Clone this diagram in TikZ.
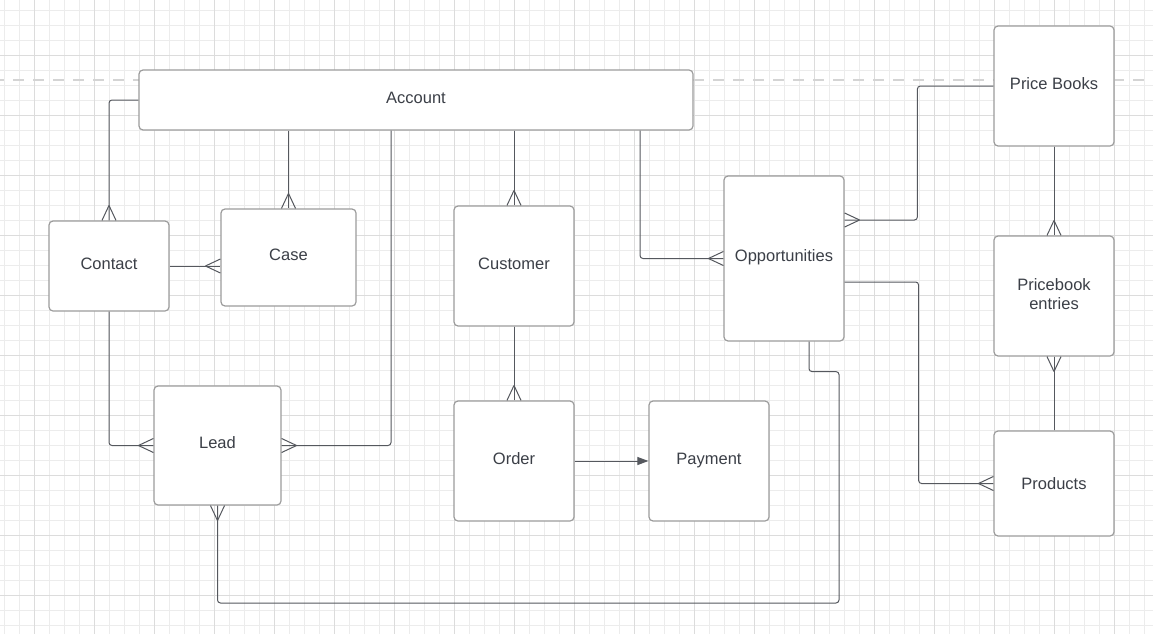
\documentclass[tikz,border=0pt]{standalone}
\usepackage{fontspec}
\setmainfont{Liberation Sans}
\usetikzlibrary{arrows.meta,decorations.markings}
\definecolor{txt}{HTML}{3B3F47}
\definecolor{bord}{HTML}{9C9C9C}
\definecolor{conn}{HTML}{55585E}
\definecolor{gminor}{HTML}{ECECEC}
\definecolor{gmajor}{HTML}{DCDCDC}
\definecolor{dashc}{HTML}{D4D4D4}
\tikzset{
  entity/.style={draw=bord, line width=1.2pt, rounded corners=4pt, fill=white,
    text=txt, font=\fontsize{16.5}{19}\selectfont, align=center, inner sep=0pt},
  oneline/.style={entity, text height=12pt, text depth=6pt},
  conn/.style={draw=conn, line width=1pt, rounded corners=3pt},
  crow/.style={postaction={decorate}, decoration={markings,
    mark=at position 1 with {\draw[draw=conn, line width=1pt, sharp corners] (-15pt,0) -- (0,7pt) (-15pt,0) -- (0,-7pt);}}},
  minorline/.style={draw=gminor, line width=0.8pt},
  majorline/.style={draw=gmajor, line width=0.9pt},
}
\begin{document}
\begin{tikzpicture}[x=1pt,y=-1pt]
\useasboundingbox (0,0) rectangle (1153,634);
\fill[white] (0,0) rectangle (1153,634);
% grid
\foreach \x in {4.5,19.5,...,1153} \draw[minorline] (\x,0) -- (\x,634);
\foreach \y in {10.5,25.5,...,634} \draw[minorline] (0,\y) -- (1153,\y);
\foreach \x in {34.5,94.5,...,1153} \draw[majorline] (\x,0) -- (\x,634);
\foreach \y in {55.5,115.5,...,634} \draw[majorline] (0,\y) -- (1153,\y);
% dashed guide
\draw[dashc, line width=2.5pt, dash pattern=on 11pt off 9pt, dash phase=6.7pt] (0,80) -- (1153,80);

% entities
\node[oneline, minimum width=554pt, minimum height=60pt] (account) at (416,100) {Account};
\node[oneline, minimum width=120pt, minimum height=90pt] (contact) at (109,266) {Contact};
\node[oneline, minimum width=135pt, minimum height=97pt] (case) at (288.5,257.5) {Case};
\node[oneline, minimum width=127pt, minimum height=119pt] (lead) at (217.5,445.5) {Lead};
\node[oneline, minimum width=120pt, minimum height=120pt] (customer) at (514,266) {Customer};
\node[oneline, minimum width=120pt, minimum height=120pt] (order) at (514,461) {Order};
\node[oneline, minimum width=120pt, minimum height=120pt] (payment) at (709,461) {Payment};
\node[oneline, minimum width=120pt, minimum height=165pt] (opp) at (784,258.5) {Opportunities};
\node[oneline, minimum width=120pt, minimum height=120pt] (pb) at (1054,86) {Price Books};
\node[entity, minimum width=120pt, minimum height=120pt] (entries) at (1054,296)
  {\raisebox{3pt}{\begin{tabular}{@{}c@{}}Pricebook\\entries\end{tabular}}};
\node[entity, text height=12pt, text depth=1pt, minimum width=120pt, minimum height=105pt] (products) at (1054,483.5) {Products};

\coordinate (loopcorner) at (839,603);

% connectors
\draw[conn, crow] (account.west) -| (contact.north);
\draw[conn, crow] (account.south -| case.north) -- (case.north);
\draw[conn, crow] (contact.east) -- (contact.east -| case.west);
\draw[conn, crow] (contact.south) |- (lead.west);
\draw[conn, crow] ([xshift=-25pt]account.south) |- (lead.east);
\draw[conn, crow] (account.south -| customer.north) -- (customer.north);
\draw[conn, crow] (customer.south) -- (order.north);
\draw[conn, -{Triangle[length=11pt,width=8pt]}, fill=conn] (order.east) -- (payment.west);
\draw[conn, crow] ([xshift=224pt]account.south) |- (opp.west);
\draw[conn, crow] (pb.west) -- ++(-76,0) |- ([yshift=38.5pt]opp.east);
\draw[conn, crow] ([yshift=-23.5pt]opp.east) -- ++(74,0) |- (products.west);
\draw[conn, crow] (pb.south) -- (entries.north);
\draw[conn, crow] (products.north) -- (entries.south);
\draw[conn, crow] ([xshift=25pt]opp.south) -- ++(0,30) -| (loopcorner) -| (lead.south);
\end{tikzpicture}
\end{document}
